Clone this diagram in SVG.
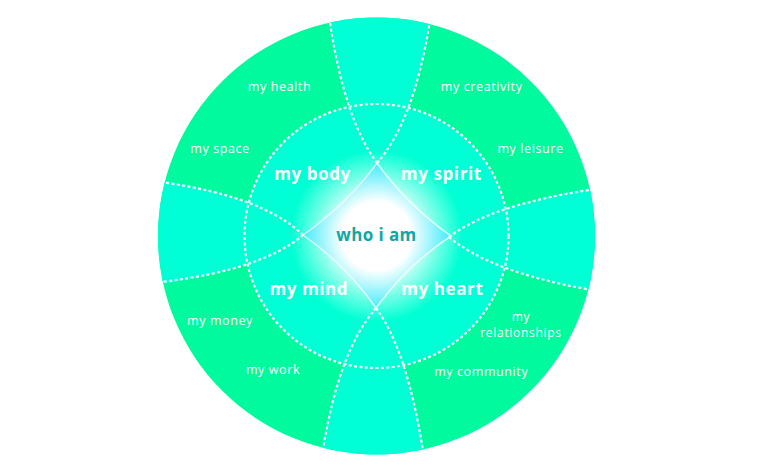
<svg xmlns="http://www.w3.org/2000/svg" width="760" height="472" viewBox="0 0 760 472">
<style>
.outer{font-family:"Open Sans","Liberation Sans",sans-serif;font-size:12.5px;fill:#fff;text-anchor:middle;letter-spacing:0.6px}
.rel{font-size:12px;letter-spacing:0.7px}
.inner{font-family:"Open Sans","Liberation Sans",sans-serif;font-size:17px;font-weight:700;fill:#fff;text-anchor:middle;letter-spacing:0.6px}
.core{font-family:"Open Sans","Liberation Sans",sans-serif;font-size:17px;font-weight:700;fill:#12A6A2;text-anchor:middle;letter-spacing:0.4px}
.dash{fill:none;stroke:#fff;stroke-width:2.2;stroke-dasharray:3 2.4}
</style>
<defs>
<clipPath id="disc"><circle cx="376.5" cy="236" r="218.5"/></clipPath>
<radialGradient id="glow" cx="376.5" cy="236" r="86" gradientUnits="userSpaceOnUse">
<stop offset="0" stop-color="#fff" stop-opacity="1"/>
<stop offset="0.4" stop-color="#fff" stop-opacity="1"/>
<stop offset="0.72" stop-color="#fff" stop-opacity="0.45"/>
<stop offset="1" stop-color="#fff" stop-opacity="0"/>
</radialGradient>
</defs>
<rect width="760" height="472" fill="#fff"/>
<g id="ring">
<circle cx="376.5" cy="236" r="218.5" fill="#02FA9E"/>
<g clip-path="url(#disc)" fill="#00FFD4">
<path d="M377,163 Q344.5,119 328,12 L432,12 Q413.45,121.4 377,163 Z"/>
<path d="M376,308 Q338.95,350.65 320,460 L426,460 Q407.25,350.65 376,308 Z"/>
<path d="M303,235 Q262.6,196.55 150,178 L150,286 Q262.25,269.65 303,235 Z"/>
<path d="M449,237 Q490.85,205.1 600,186 L600,292 Q489.85,271.45 449,237 Z"/>
</g>
<circle cx="376.5" cy="236" r="132" fill="#00FFD4"/>
</g>
<g id="core">
<path d="M377,163 Q408,206 451,236 Q407,265 376,308 Q346,265 303,235 Q346,205 377,163 Z" fill="#0CE6F7" stroke="#fff" stroke-opacity="0.75" stroke-width="1.5"/>
<circle cx="376.5" cy="236" r="86" fill="url(#glow)"/>
<text class="core" x="376.5" y="241">who i am</text>
</g>
<g id="connectors" clip-path="url(#disc)">
<circle class="dash" cx="376.5" cy="236" r="132"/>
<path class="dash" d="M377,163 Q344.5,119 330,23"/>
<path class="dash" d="M377,163 Q413.45,121.4 429.3,25"/>
<path class="dash" d="M376,308 Q338.95,350.65 323.3,448"/>
<path class="dash" d="M376,308 Q407.25,350.65 422.7,449.6"/>
<path class="dash" d="M303,235 Q262.6,196.55 165,182.7"/>
<path class="dash" d="M303,235 Q262.25,269.65 163.3,281.7"/>
<path class="dash" d="M449,237 Q490.85,205.1 589.3,190"/>
<path class="dash" d="M449,237 Q489.85,271.45 587.3,289.3"/>
</g>
<g id="body"><text class="inner" x="312.5" y="180">my body</text></g>
<g id="spirit"><text class="inner" x="441.3" y="180">my spirit</text></g>
<g id="mind"><text class="inner" x="308.8" y="294.5">my mind</text></g>
<g id="heart"><text class="inner" x="442.3" y="294.5">my heart</text></g>
<g id="health"><text class="outer" x="279.5" y="90.5">my health</text></g>
<g id="creativity"><text class="outer" x="481.7" y="90.5">my creativity</text></g>
<g id="space"><text class="outer" x="220" y="153.3">my space</text></g>
<g id="leisure"><text class="outer" x="530.5" y="153.3">my leisure</text></g>
<g id="money"><text class="outer" x="220" y="325">my money</text></g>
<g id="relationships"><text class="outer rel" x="521" y="320.5">my</text><text class="outer rel" x="521" y="337.3">relationships</text></g>
<g id="work"><text class="outer" x="273" y="374.3">my work</text></g>
<g id="community"><text class="outer" x="481.2" y="375.7">my community</text></g>
</svg>
